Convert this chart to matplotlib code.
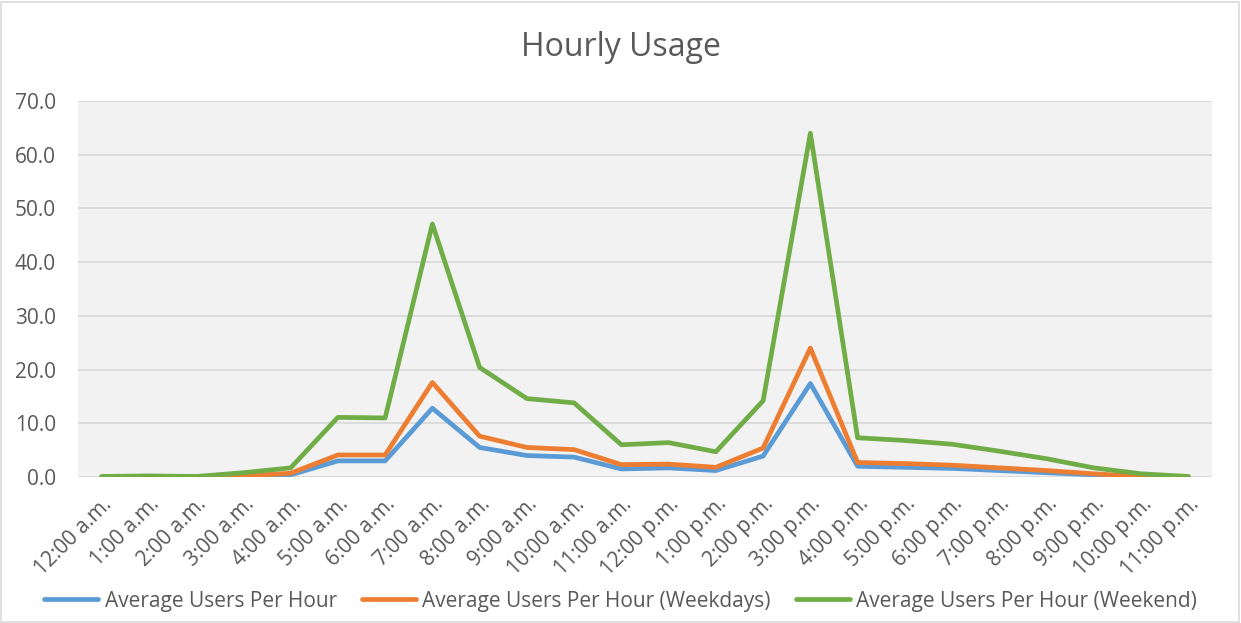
import numpy as np
import matplotlib
matplotlib.use("Agg")
import matplotlib.pyplot as plt
from matplotlib.patches import Rectangle

plt.rcParams['font.family'] = ['Open Sans', 'DejaVu Sans']

hours = ['12:00 a.m.', '1:00 a.m.', '2:00 a.m.', '3:00 a.m.', '4:00 a.m.', '5:00 a.m.',
         '6:00 a.m.', '7:00 a.m.', '8:00 a.m.', '9:00 a.m.', '10:00 a.m.', '11:00 a.m.',
         '12:00 p.m.', '1:00 p.m.', '2:00 p.m.', '3:00 p.m.', '4:00 p.m.', '5:00 p.m.',
         '6:00 p.m.', '7:00 p.m.', '8:00 p.m.', '9:00 p.m.', '10:00 p.m.', '11:00 p.m.']

users_all = [0.0, 0.0, 0.0, 0.1, 0.4, 3.0, 3.0, 12.8, 5.5, 4.0, 3.7, 1.5,
             1.7, 1.2, 3.9, 17.4, 2.0, 1.8, 1.6, 1.2, 0.8, 0.4, 0.1, 0.0]
users_weekdays = [0.0, 0.0, 0.0, 0.2, 0.7, 4.1, 4.1, 17.6, 7.6, 5.5, 5.1, 2.3,
                  2.4, 1.8, 5.4, 24.0, 2.7, 2.5, 2.2, 1.7, 1.2, 0.6, 0.1, 0.1]
users_weekend = [0.1, 0.2, 0.1, 0.8, 1.7, 11.1, 11.0, 47.1, 20.4, 14.6, 13.8, 6.0,
                 6.4, 4.7, 14.2, 64.0, 7.3, 6.8, 6.1, 4.8, 3.4, 1.7, 0.6, 0.1]

series_labels = ['Average Users Per Hour', 'Average Users Per Hour (Weekdays)',
                 'Average Users Per Hour (Weekend)']
colors = ['#5B9BD5', '#ED7D31', '#70AD47']
text_color = '#595959'

fig = plt.figure(figsize=(12.41, 6.23), dpi=100)
ax = fig.add_axes([78 / 1241, 1 - 477 / 623, (1212 - 78) / 1241, (477 - 101) / 623])
ax.set_facecolor('#F2F2F2')

x = np.arange(len(hours))
for vals, lab, c in zip([users_all, users_weekdays, users_weekend], series_labels, colors):
    ax.plot(x, vals, color=c, lw=3.4, label=lab, solid_joinstyle='round',
            solid_capstyle='round', zorder=3)

ax.set_xlim(-0.5, len(hours) - 0.5)
ax.set_ylim(0, 70)
ax.set_yticks(np.arange(0, 71, 10))
ax.set_yticklabels([f'{v:.1f}' for v in np.arange(0, 71, 10)])
ax.set_xticks(x)
ax.set_xticklabels(hours, rotation=45, ha='right', rotation_mode='anchor')
ax.grid(axis='y', color='#D9D9D9', lw=1.3, zorder=0)
ax.set_axisbelow(True)
for s in ax.spines.values():
    s.set_visible(False)
ax.tick_params(axis='both', length=0, labelsize=15, colors=text_color)
ax.tick_params(axis='y', pad=16)
ax.tick_params(axis='x', pad=12)

fig.text(0.5, 1 - 47 / 623, 'Hourly Usage', ha='center', va='center', fontsize=23,
         color=text_color)

fig.legend(loc='center', bbox_to_anchor=(0.5, 1 - 601 / 623), ncol=3, frameon=False,
           fontsize=15, handlelength=2.6, handletextpad=0.3, columnspacing=1.2,
           labelcolor=text_color)

fig.patches.append(Rectangle((0.001, 0.002), 0.997, 0.995, transform=fig.transFigure,
                             fill=False, edgecolor='#D9D9D9', lw=1.2))

fig.savefig('out.png', dpi=100, facecolor='white')
